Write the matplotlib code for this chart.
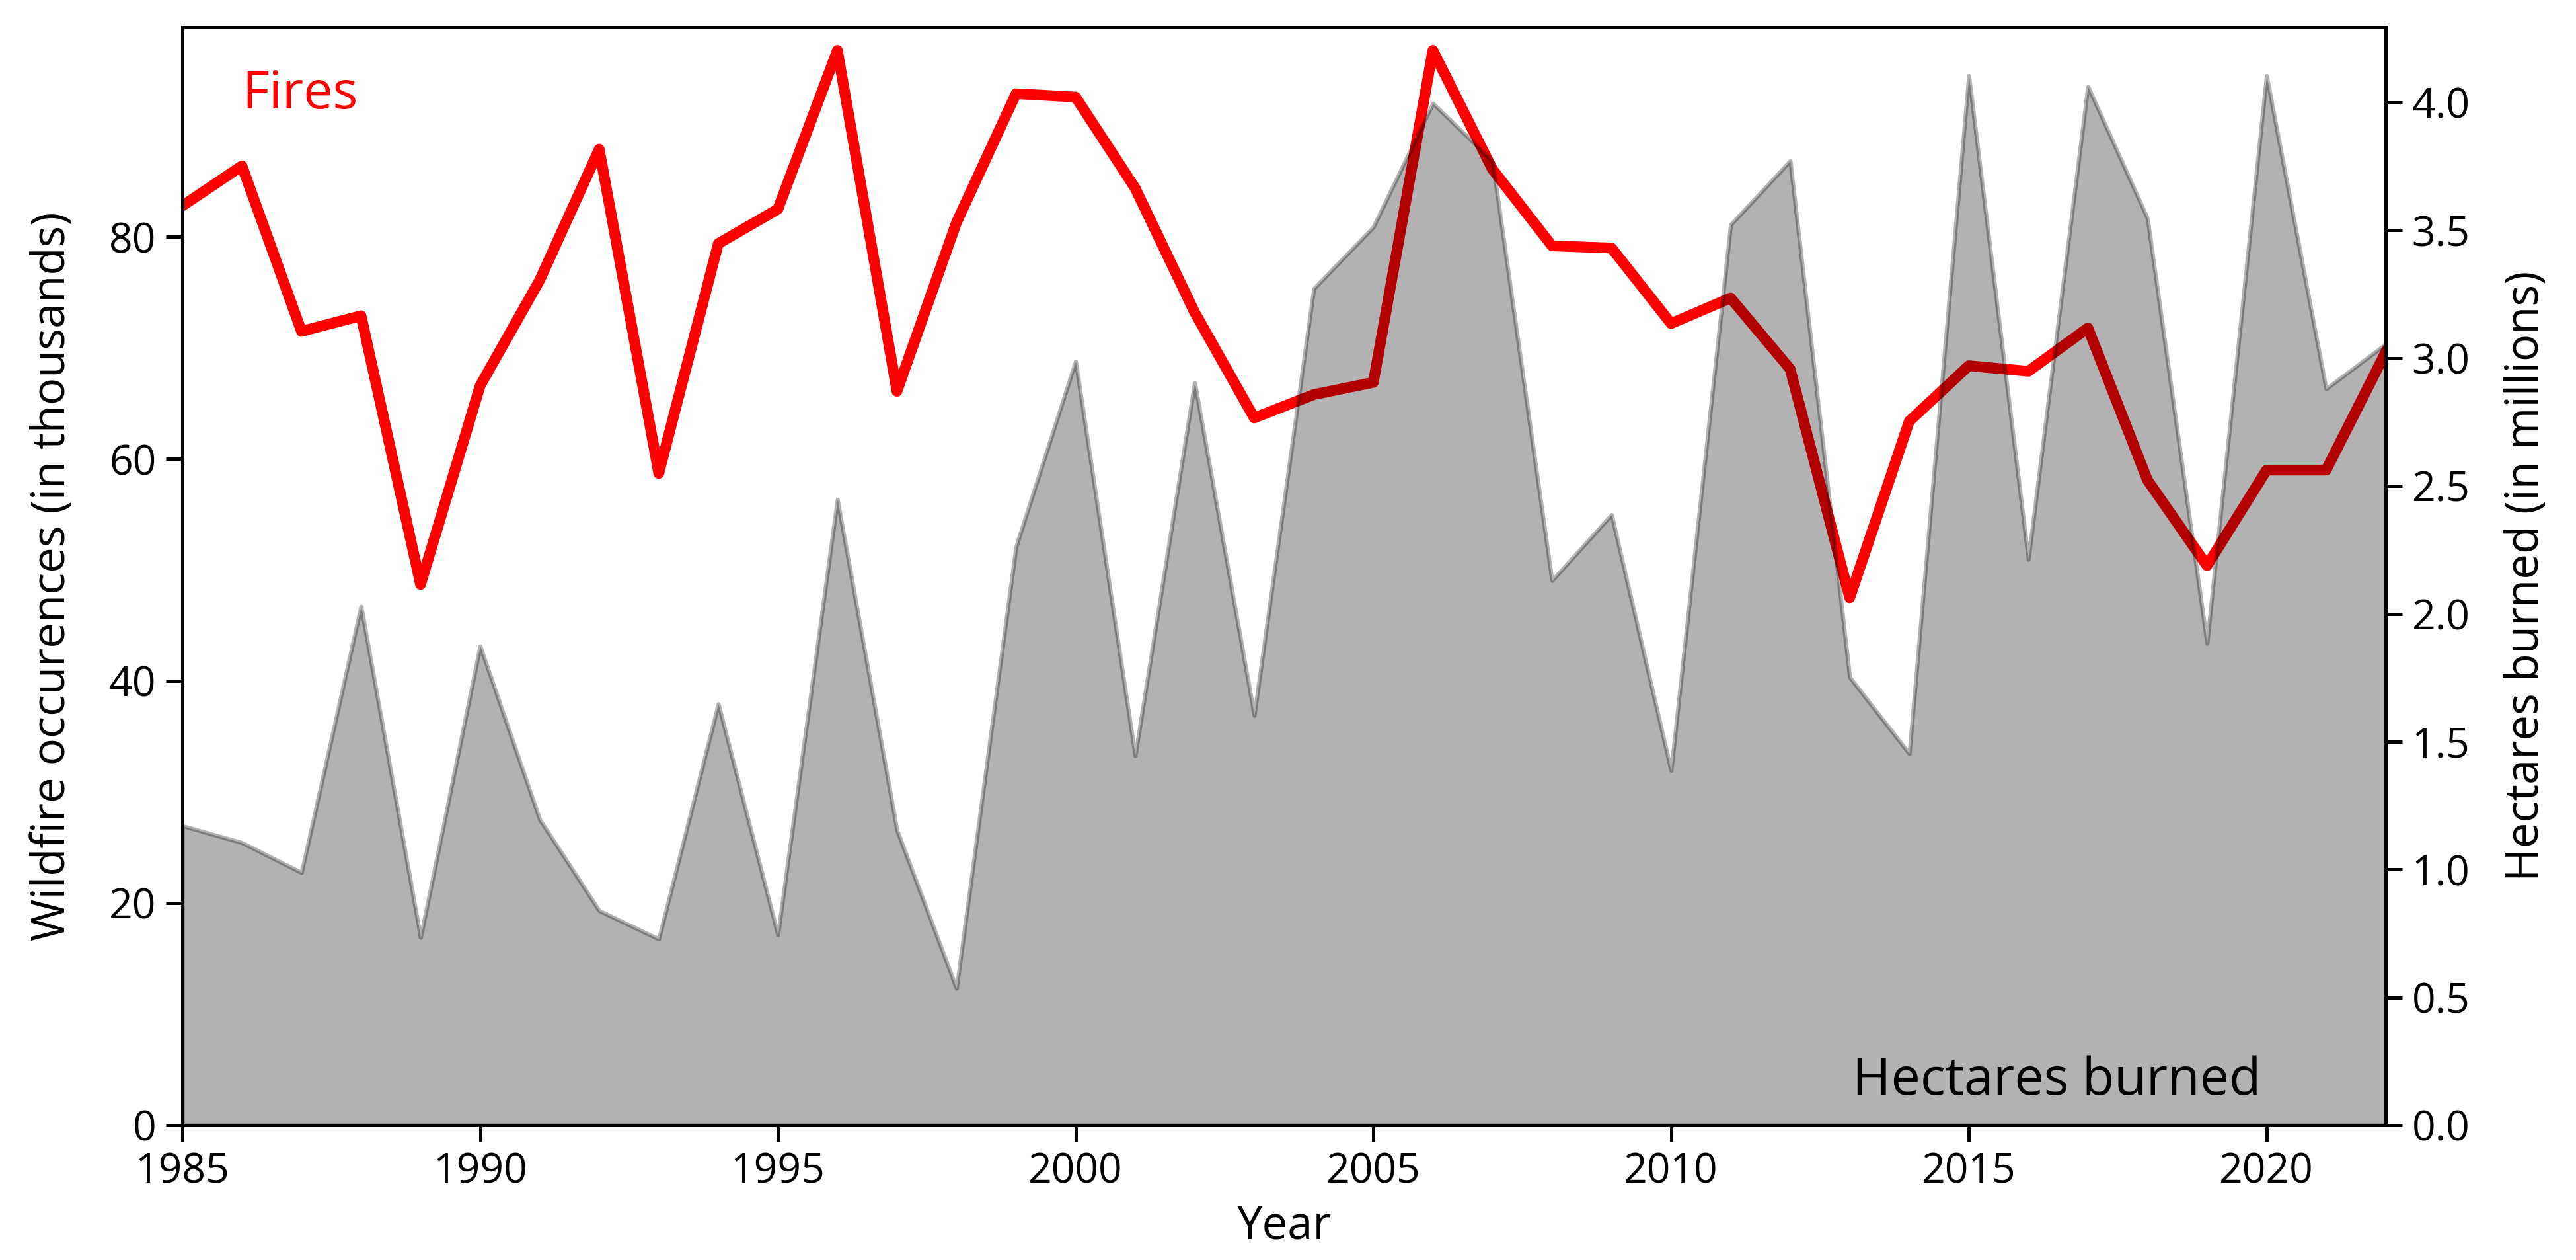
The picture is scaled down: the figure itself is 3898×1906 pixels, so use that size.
import numpy as np
import matplotlib
matplotlib.use('Agg')
import matplotlib.pyplot as plt

plt.rcParams['font.family'] = ['Open Sans', 'DejaVu Sans']

years = np.arange(1985, 2023)

# wildfire occurrences, thousands
fires = [82.8, 86.4, 71.5, 72.9, 48.7, 66.6, 76.1, 87.9, 58.7, 79.4,
         82.5, 96.8, 66.1, 81.3, 92.9, 92.6, 84.4, 73.2, 63.7, 65.8,
         66.9, 96.8, 86.1, 79.2, 79.0, 72.2, 74.5, 68.1, 47.5, 63.4,
         68.4, 67.9, 71.8, 58.1, 50.4, 59.0, 59.0, 69.6]

# hectares burned, millions
hectares = [1.171, 1.105, 0.988, 2.03, 0.734, 1.874, 1.196, 0.839, 0.728, 1.648,
            0.744, 2.447, 1.154, 0.535, 2.263, 2.988, 1.445, 2.905, 1.603, 3.272,
            3.513, 3.997, 3.772, 2.13, 2.388, 1.387, 3.522, 3.772, 1.752, 1.453,
            4.105, 2.213, 4.063, 3.547, 1.885, 4.105, 2.88, 3.055]

fig = plt.figure(figsize=(3898/300, 1906/300), dpi=300)
ax = fig.add_axes([0.0708, 0.1070, 0.8553, 0.8715])

ax.plot(years, fires, color='red', lw=3.9)
ax.set_xlim(1985, 2022)
ax.set_ylim(0, 98.9)
ax.set_xlabel('Year', fontsize=16.5)
ax.set_ylabel('Wildfire occurences (in thousands)', fontsize=16.5, labelpad=12)
ax.tick_params(labelsize=15, length=6, width=1.2)
ax.text(1986, 91.6, 'Fires', color='red', fontsize=19)

ax2 = ax.twinx()
ax2.fill_between(years, hectares, color='k', alpha=0.3, lw=1.5)
ax2.set_ylim(0, 4.295)
ax2.set_ylabel('Hectares burned (in millions)', fontsize=16.5, labelpad=12)
ax2.tick_params(labelsize=15, length=6, width=1.2)
ax2.text(2013.05, 0.12, 'Hectares burned', color='black', fontsize=19)

for a in (ax, ax2):
    for s in a.spines.values():
        s.set_linewidth(1.2)

fig.savefig('out.png', dpi=300)
